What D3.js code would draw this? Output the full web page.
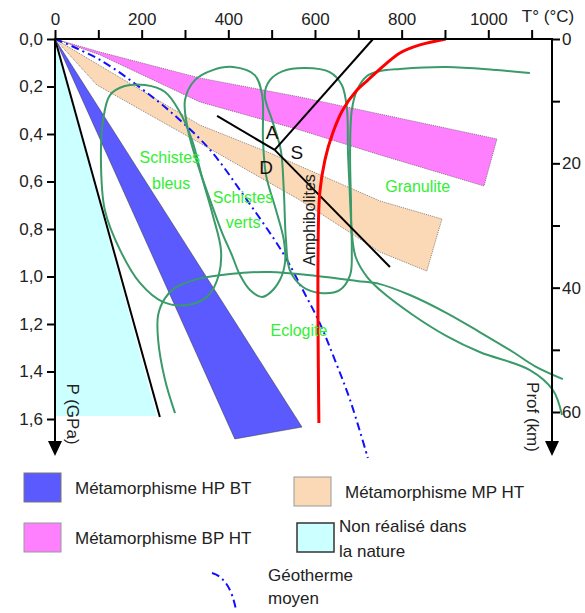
<!DOCTYPE html>
<html>
<head>
<meta charset="utf-8">
<script src="https://cdn.jsdelivr.net/npm/d3@7"></script>
<style>
  body { margin: 0; background: #fff; }
  svg { font-family: Arial, "Liberation Sans", sans-serif; }
</style>
</head>
<body>
<svg width="585" height="613"></svg>
<script>
// --- values (T in degC, P in GPa) ---
var tempTicks = [0, 100, 200, 300, 400, 500, 600, 700, 800, 900, 1000, 1100];
var presTicks = [0, 0.2, 0.4, 0.6, 0.8, 1.0, 1.2, 1.4, 1.6];
var depthTicks = [0, 10, 20, 30, 40, 50, 60];

var nonRealise = [[0, 0], [235, 1.587], [0, 1.587]];
var limitLine = [[0, 0], [242, 1.592]];
var hpbt = [[0, 0], [415, 1.684], [570, 1.634]];
var mpht = [[0, 0], [334, 0.362], [496, 0.48], [750, 0.682], [893, 0.758],
            [858, 0.977], [750, 0.897], [565, 0.678], [334, 0.438], [97, 0.194]];
var bpht = [[0, 0], [104, 0.055], [334, 0.164], [565, 0.244], [1020, 0.421],
            [990, 0.619], [750, 0.488], [565, 0.383], [334, 0.265], [104, 0.067]];

var geotherme = [[0, 0], [104, 0.088], [219, 0.236], [288, 0.341], [358, 0.467],
                 [443, 0.678], [526, 0.901], [572, 1.057], [611, 1.196],
                 [646, 1.352], [681, 1.52], [722, 1.764]];
var solidus = [[902, 0], [842, 0.025], [796, 0.059], [761, 0.109], [722, 0.173],
               [697, 0.215], [664, 0.299], [641, 0.396], [623, 0.509],
               [611, 0.648], [607, 0.931], [609, 1.617]];

// aluminosilicates triple point and branches
var triple = [507, 0.467];
var alBranches = [[734, 0], [374, 0.324], [773, 0.96]];

// facies boundaries
var loopBleus = [[208, 0.194], [254, 0.223], [288, 0.307], [316, 0.425], [341, 0.594],
                 [364, 0.741], [383, 0.888], [378, 0.994], [353, 1.082], [305, 1.12],
                 [249, 1.107], [196, 1.027], [150, 0.888], [115, 0.72], [106, 0.509],
                 [111, 0.341], [127, 0.236], [161, 0.198]];
var loopVerts = [[411, 0.118], [461, 0.152], [478, 0.236], [480, 0.425], [487, 0.573],
                 [510, 0.72], [528, 0.846], [531, 0.939], [519, 1.015], [496, 1.069],
                 [478, 1.086], [450, 1.057], [427, 0.994], [408, 0.909], [385, 0.813],
                 [358, 0.678], [330, 0.531], [307, 0.383], [300, 0.257], [323, 0.173],
                 [364, 0.131]];
var loopAmph = [[577, 0.122], [634, 0.139], [662, 0.194], [674, 0.299], [676, 0.467],
                [681, 0.678], [685, 0.888], [681, 0.994], [657, 1.057], [611, 1.069],
                [572, 1.044], [542, 0.973], [533, 0.846], [528, 0.636], [521, 0.467],
                [501, 0.341], [484, 0.236], [496, 0.173], [526, 0.135]];
var granulite = [[1096, 0.143], [1020, 0.131], [904, 0.118], [796, 0.126], [750, 0.135],
                 [720, 0.156], [697, 0.215], [685, 0.299], [681, 0.467], [683, 0.678],
                 [685, 0.817], [694, 0.918], [720, 1.002], [750, 1.057], [826, 1.162],
                 [904, 1.251], [980, 1.318], [1096, 1.394], [1149, 1.478], [1170, 1.583]];
var eclogite = [[277, 1.575], [254, 1.436], [238, 1.267], [238, 1.162], [254, 1.091],
                [277, 1.048], [328, 1.011], [404, 0.989], [496, 0.981], [604, 0.998],
                [697, 1.019], [750, 1.032], [819, 1.078], [904, 1.154], [980, 1.234],
                [1057, 1.318], [1107, 1.377], [1172, 1.432]];

var faciesLabels = [
  { t: 265, p: 0.497, text: "Schistes" }, { t: 268, p: 0.606, text: "bleus" },
  { t: 434, p: 0.669, text: "Schistes" }, { t: 434, p: 0.771, text: "verts" },
  { t: 837, p: 0.619, text: "Granulite" }, { t: 563, p: 1.229, text: "Eclogite" }
];
var alLabels = [{ t: 501, p: 0.392, text: "A" }, { t: 558, p: 0.476, text: "S" }, { t: 487, p: 0.539, text: "D" }];

var legendItems = [
  { text: ["Métamorphisme HP BT"], fill: "#5a5aff", stroke: "#777" },
  { text: ["Métamorphisme MP HT"], fill: "#fcd9b6", stroke: "#999" },
  { text: ["Métamorphisme BP HT"], fill: "#ff80ff", stroke: "#999" },
  { text: ["Non réalisé dans", "la nature"], fill: "#ccffff", stroke: "#333" }
];

// --- drawing ---
var svg = d3.select('svg');
var x = d3.scaleLinear().domain([0, 1147]).range([55, 552]);
var y = d3.scaleLinear().domain([0, 1.6]).range([39, 419]);
var depth = d3.scaleLinear().domain([0, 60]).range([39, 412]);

var line = d3.line().x(function(d) { return x(d[0]); }).y(function(d) { return y(d[1]); });
var poly = function(pts) { return line(pts) + 'Z'; };
var smooth = d3.line().x(function(d) { return x(d[0]); }).y(function(d) { return y(d[1]); })
    .curve(d3.curveCatmullRom.alpha(0.5));
var smoothClosed = d3.line().x(function(d) { return x(d[0]); }).y(function(d) { return y(d[1]); })
    .curve(d3.curveCatmullRomClosed.alpha(0.5));

var plot = svg.append('g');

plot.append('path').attr('d', poly(nonRealise)).attr('fill', '#ccffff');
plot.append('path').attr('d', line(limitLine)).attr('stroke', '#000').attr('stroke-width', 2).attr('fill', 'none');
plot.append('path').attr('d', poly(hpbt)).attr('fill', '#5a5aff').attr('stroke', '#333').attr('stroke-width', 0.5);

[[mpht, '#fcd9b6'], [bpht, '#ff80ff']].forEach(function(b) {
  plot.append('path').attr('d', poly(b[0]))
      .attr('fill', b[1]).attr('stroke', '#555').attr('stroke-width', 0.7)
      .attr('stroke-dasharray', '1,1');
});

plot.append('path').attr('d', smooth(geotherme))
    .attr('fill', 'none').attr('stroke', '#1010ff').attr('stroke-width', 2)
    .attr('stroke-dasharray', '8,4,2,4');

plot.selectAll('.loop')
    .data([loopBleus, loopVerts, loopAmph])
    .enter().append('path')
    .attr('class', 'loop')
    .attr('d', smoothClosed)
    .attr('fill', 'none').attr('stroke', '#3a9a6a').attr('stroke-width', 2);

plot.selectAll('.bound')
    .data([granulite, eclogite])
    .enter().append('path')
    .attr('class', 'bound')
    .attr('d', smooth)
    .attr('fill', 'none').attr('stroke', '#3a9a6a').attr('stroke-width', 2);

plot.selectAll('.al')
    .data(alBranches)
    .enter().append('line')
    .attr('class', 'al')
    .attr('x1', x(triple[0])).attr('y1', y(triple[1]))
    .attr('x2', function(d) { return x(d[0]); })
    .attr('y2', function(d) { return y(d[1]); })
    .attr('stroke', '#000').attr('stroke-width', 2);

plot.append('path').attr('d', smooth(solidus))
    .attr('fill', 'none').attr('stroke', '#ff0000').attr('stroke-width', 3);

plot.selectAll('.alLabel')
    .data(alLabels)
    .enter().append('text')
    .attr('x', function(d) { return x(d.t); })
    .attr('y', function(d) { return y(d.p); })
    .attr('dy', '0.35em').attr('text-anchor', 'middle')
    .attr('font-size', 19).attr('fill', '#111')
    .text(function(d) { return d.text; });

plot.selectAll('.facies')
    .data(faciesLabels)
    .enter().append('text')
    .attr('x', function(d) { return x(d.t); })
    .attr('y', function(d) { return y(d.p); })
    .attr('dy', '0.35em').attr('text-anchor', 'middle')
    .attr('font-size', 16).attr('fill', '#33ee33')
    .text(function(d) { return d.text; });

plot.append('text')
    .attr('transform', 'translate(' + x(586) + ',' + y(0.762) + ') rotate(-90)')
    .attr('dy', '0.35em').attr('text-anchor', 'middle')
    .attr('font-size', 16).attr('fill', '#222')
    .text('Amphibolites');

// axes
var topAxis = svg.append('g').attr('transform', 'translate(0,' + y(0) + ')')
    .call(d3.axisTop(x).tickValues(tempTicks).tickSize(9).tickPadding(5)
      .tickFormat(function(d) { return (d % 200 === 0 && d <= 1000) ? d : ''; }));
var leftAxis = svg.append('g').attr('transform', 'translate(' + x(0) + ',0)')
    .call(d3.axisLeft(y).tickValues(presTicks).tickSize(8).tickPadding(4)
      .tickFormat(function(d) { return d.toFixed(1).replace('.', ','); }));
var rightAxis = svg.append('g').attr('transform', 'translate(' + x(1147) + ',0)')
    .call(d3.axisRight(depth).tickValues(depthTicks).tickSize(8).tickPadding(2)
      .tickFormat(function(d) { return d % 20 === 0 ? d : ''; }));

[topAxis, leftAxis, rightAxis].forEach(function(g) {
  g.select('.domain').remove();
  g.selectAll('line').attr('stroke', '#000').attr('stroke-width', 2);
  g.selectAll('text').attr('font-size', 17).attr('fill', '#222')
      .attr('font-family', 'Arial, "Liberation Sans", sans-serif');
});

svg.append('line').attr('x1', x(0) - 1).attr('x2', x(1147) + 1).attr('y1', y(0)).attr('y2', y(0))
    .attr('stroke', '#000').attr('stroke-width', 2);
[x(0), x(1147)].forEach(function(ax) {
  svg.append('line').attr('x1', ax).attr('x2', ax).attr('y1', y(0)).attr('y2', 445)
      .attr('stroke', '#000').attr('stroke-width', 2);
  svg.append('path').attr('d', 'M' + (ax - 7) + ',441L' + (ax + 7) + ',441L' + ax + ',456Z')
      .attr('fill', '#000');
});

svg.append('text').attr('x', 548).attr('y', 22).attr('text-anchor', 'middle')
    .attr('font-size', 17).attr('fill', '#222').text('T° (°C)');
svg.append('text').attr('transform', 'translate(73,414) rotate(90)')
    .attr('dy', '0.35em').attr('text-anchor', 'middle')
    .attr('font-size', 17).attr('fill', '#222').text('P (GPa)');
svg.append('text').attr('transform', 'translate(533,417) rotate(90)')
    .attr('dy', '0.35em').attr('text-anchor', 'middle')
    .attr('font-size', 17).attr('fill', '#222').text('Prof (km)');

// legend
var legPos = [[24, 473], [294, 477], [24, 523], [297, 523]];
var leg = svg.selectAll('.leg')
    .data(legendItems)
    .enter().append('g')
    .attr('class', 'leg')
    .attr('transform', function(d, i) { return 'translate(' + legPos[i] + ')'; });

leg.append('rect')
    .attr('width', 37).attr('height', 29)
    .attr('fill', function(d) { return d.fill; })
    .attr('stroke', function(d) { return d.stroke; })
    .attr('stroke-width', function(d, i) { return i === 3 ? 1.5 : 1; });

leg.each(function(d) {
  var g = d3.select(this);
  var n = d.text.length;
  d.text.forEach(function(t, j) {
    g.append('text')
        .attr('x', n > 1 ? 42 : 51)
        .attr('y', n > 1 ? 3 + j * 25 : 15)
        .attr('dy', '0.35em')
        .attr('font-size', 17).attr('fill', '#222')
        .text(t);
  });
});

svg.append('path')
    .attr('d', 'M212,573 Q230,578 236,610')
    .attr('fill', 'none').attr('stroke', '#1010ff').attr('stroke-width', 2)
    .attr('stroke-dasharray', '8,4,2,4');
svg.append('text').attr('x', 268).attr('y', 575).attr('dy', '0.35em')
    .attr('font-size', 17).attr('fill', '#222').text('Géotherme');
svg.append('text').attr('x', 268).attr('y', 598).attr('dy', '0.35em')
    .attr('font-size', 17).attr('fill', '#222').text('moyen');
</script>
</body>
</html>
